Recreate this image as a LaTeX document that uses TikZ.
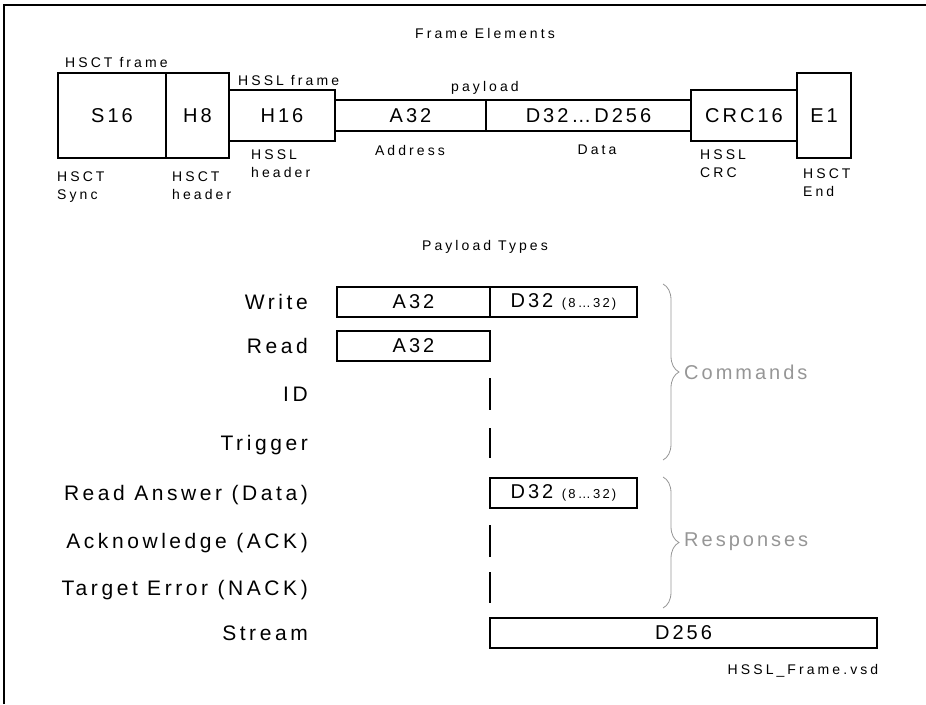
\documentclass[tikz,border=0pt]{standalone}
\usepackage{fontspec}
\setmainfont{Liberation Sans}
\newfontfamily\vsdfont{Liberation Sans}[LetterSpace=15]
\newfontfamily\rowfont{Liberation Sans}[LetterSpace=17]
\newfontfamily\lblfont{Liberation Sans}[LetterSpace=22]
\usetikzlibrary{positioning, decorations.pathreplacing}
\definecolor{bracegray}{RGB}{150,150,150}
\newcommand{\bigtxt}{\vsdfont\fontsize{20}{24}\selectfont}
\newcommand{\rowtxt}{\rowfont\fontsize{21}{25}\selectfont}
\newcommand{\smalltxt}{\lblfont\fontsize{14}{18}\selectfont}
\newcommand{\rangetxt}{\rowfont\fontsize{13}{15}\selectfont}

\begin{document}
\begin{tikzpicture}[
  x=1pt, y=-1pt,
  field/.style={rectangle, draw, line width=2.4pt, inner sep=0pt, outer sep=0pt, font=\bigtxt},
  lbl/.style={font=\smalltxt, align=left, inner sep=0pt},
  rowname/.style={font=\rowtxt, anchor=base east, inner sep=0pt},
  emptymark/.style={line width=2.4pt},
  grp/.style={decorate, decoration={brace, amplitude=16pt}, draw=bracegray, line width=0.8pt},
  grptxt/.style={font=\bigtxt, text=bracegray, anchor=west, inner sep=0pt}
]
\useasboundingbox (0,0) rectangle (926,704);
\draw[line width=2pt] (4,704) -- (4,5) -- (926,5);

\node (title) [lbl] at (485,33) {Frame Elements};

\node (s16) [field, minimum width=108pt, minimum height=85pt, anchor=north west] at (58,73) {S16};
\node (h8) [field, minimum width=63pt, minimum height=85pt, right=0pt of s16] {H8};
\node (h16) [field, minimum width=106pt, minimum height=51pt, right=0pt of h8] {H16};
\node (a32) [field, minimum width=151pt, minimum height=31pt, right=0pt of h16] {A32};
\node (dat) [field, minimum width=205pt, minimum height=31pt, right=0pt of a32] {D32…D256};
\node (crc) [field, minimum width=106pt, minimum height=51pt, right=0pt of dat] {CRC16};
\node (e1) [field, minimum width=54pt, minimum height=85pt, right=0pt of crc] {E1};

\node (hsctframe) [lbl, anchor=base west] at (65,67) {HSCT frame};
\node (hsslframe) [lbl, anchor=base west] at (238,85) {HSSL frame};
\node (payload) [lbl] at (485,88) {payload};
\node (hsctsync) [lbl, anchor=north west] at (57,172) {HSCT\\Sync};
\node (hsctheader) [lbl, anchor=north west] at (172,172) {HSCT\\header};
\node (hsslheader) [lbl, anchor=north west] at (251,150) {HSSL\\header};
\node (address) [lbl] at (410,150) {Address};
\node (data) [lbl] at (597,150) {Data};
\node (hsslcrc) [lbl, anchor=north west] at (700,150) {HSSL\\CRC};
\node (hsctend) [lbl, anchor=north west] at (803,169) {HSCT\\End};

\node (types) [lbl] at (485,247) {Payload Types};

\node (write) [rowname] at (308,309) {Write};
\node (read) [rowname] at (308,353) {Read};
\node (id) [rowname] at (308,401) {ID};
\node (trigger) [rowname] at (308,450) {Trigger};
\node (answer) [rowname] at (308,500) {Read Answer (Data)};
\node (ack) [rowname] at (308,548) {Acknowledge (ACK)};
\node (nack) [rowname] at (308,595) {Target Error (NACK)};
\node (stream) [rowname] at (308,640) {Stream};

\node (wa) [field, minimum width=153pt, minimum height=30pt, anchor=north west] at (337,287) {A32};
\node (wd) [field, minimum width=147pt, minimum height=30pt, right=0pt of wa] {D32 {\rangetxt(8…32)}};
\node (ra) [field, minimum width=153pt, minimum height=30pt, anchor=north west] at (337,331) {A32};
\node (ad) [field, minimum width=147pt, minimum height=30pt, anchor=north west] at (490,478) {D32 {\rangetxt(8…32)}};
\node (sd) [field, minimum width=387pt, minimum height=30pt, anchor=north west] at (490,618) {D256};

\coordinate (idmark) at (490,378);
\coordinate (trigmark) at (490,428);
\coordinate (ackmark) at (490,525);
\coordinate (nackmark) at (490,572);
\draw[emptymark] (idmark) -- ++(0,32);
\draw[emptymark] (trigmark) -- ++(0,30);
\draw[emptymark] (ackmark) -- ++(0,32);
\draw[emptymark] (nackmark) -- ++(0,31);

\coordinate (cmdtop) at (663,284);
\coordinate (cmdbot) at (663,460);
\coordinate (rsptop) at (663,477);
\coordinate (rspbot) at (663,608);
\draw[grp] (cmdtop) -- (cmdbot);
\draw[grp] (rsptop) -- (rspbot);
\node (commands) [grptxt] at (684,372) {Commands};
\node (responses) [grptxt] at (684,542) {Responses};

\node (vsd) [lbl] at (803,671) {HSSL\_Frame.vsd};
\end{tikzpicture}
\end{document}
